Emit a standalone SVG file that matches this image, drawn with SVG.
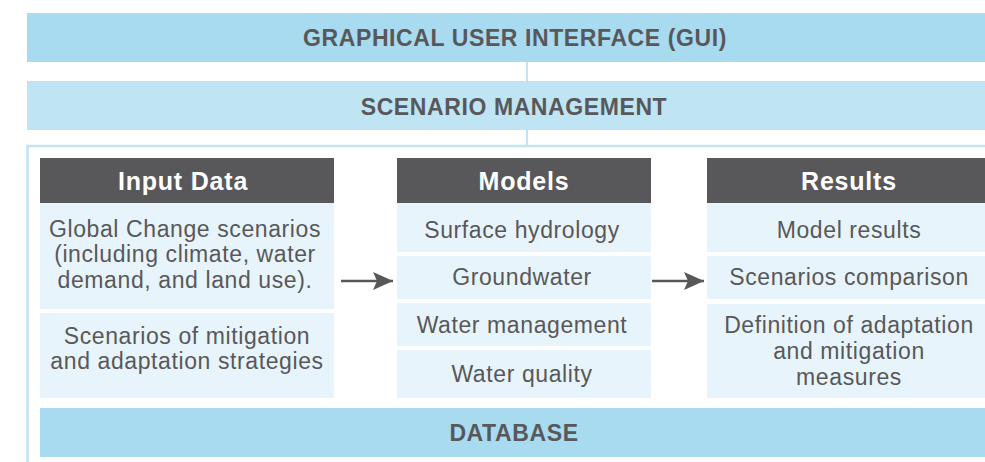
<svg xmlns="http://www.w3.org/2000/svg" width="985" height="462" viewBox="0 0 985 462">
  <defs>
    <style>
      .bar1 { fill: #a8daf0; }
      .bar2 { fill: #bfe4f3; }
      .head { fill: #58585a; }
      .cell { fill: #e8f4fb; }
      .link { stroke: #bfe4f3; stroke-width: 2; fill: none; }
      .frame { stroke: #bfe4f3; stroke-width: 2.5; fill: none; }
      .flow { stroke: #58585a; stroke-width: 2.5; fill: none; }
      .bt { font-family: "Liberation Sans", Arial, sans-serif; font-weight: bold; font-size: 23px; fill: #58585a; text-anchor: middle; letter-spacing: 0.6px; }
      .ht { font-family: "Liberation Sans", Arial, sans-serif; font-weight: bold; font-size: 25px; fill: #ffffff; text-anchor: middle; letter-spacing: 0.8px; }
      .ct { font-family: "Liberation Sans", Arial, sans-serif; font-size: 23px; fill: #58585a; text-anchor: middle; letter-spacing: 0.6px; }
    </style>
    <marker id="arrow" viewBox="0 0 20 18" refX="20" refY="9" markerWidth="20" markerHeight="18" markerUnits="userSpaceOnUse" orient="auto">
      <path d="M0,0 L20,9 L0,18 L4,9 z" fill="#58585a"/>
    </marker>
  </defs>

  <!-- connectors -->
  <g id="connectors">
    <line class="link" x1="527" y1="62" x2="527" y2="81"/>
    <line class="link" x1="527" y1="130" x2="527" y2="146"/>
    <polyline class="frame" points="988,146 27.5,146 27.5,465"/>
    <line class="flow" x1="341" y1="281" x2="393" y2="281" marker-end="url(#arrow)"/>
    <line class="flow" x1="652" y1="281" x2="704" y2="281" marker-end="url(#arrow)"/>
  </g>

  <g id="gui">
    <rect class="bar1" x="27" y="13" width="960" height="49"/>
    <text class="bt" x="515" y="46">GRAPHICAL USER INTERFACE (GUI)</text>
  </g>

  <g id="scenario-management">
    <rect class="bar2" x="27" y="81" width="960" height="49"/>
    <text class="bt" x="514" y="115">SCENARIO MANAGEMENT</text>
  </g>

  <g id="input-data">
    <rect class="head" x="40" y="158" width="294" height="45"/>
    <text class="ht" x="183" y="190">Input Data</text>
    <rect class="cell" x="40" y="203" width="294" height="106"/>
    <text class="ct" x="185" y="237">Global Change scenarios</text>
    <text class="ct" x="185" y="262">(including climate, water</text>
    <text class="ct" x="185" y="288">demand, and land use).</text>
    <rect class="cell" x="40" y="313" width="294" height="85"/>
    <text class="ct" x="187" y="344">Scenarios of mitigation</text>
    <text class="ct" x="187" y="369">and adaptation strategies</text>
  </g>

  <g id="models">
    <rect class="head" x="397" y="158" width="254" height="45"/>
    <text class="ht" x="524" y="190">Models</text>
    <rect class="cell" x="397" y="203" width="254" height="49"/>
    <text class="ct" x="522" y="238">Surface hydrology</text>
    <rect class="cell" x="397" y="256" width="254" height="43"/>
    <text class="ct" x="522" y="285">Groundwater</text>
    <rect class="cell" x="397" y="303" width="254" height="43"/>
    <text class="ct" x="522" y="333">Water management</text>
    <rect class="cell" x="397" y="350" width="254" height="48"/>
    <text class="ct" x="522" y="382">Water quality</text>
  </g>

  <g id="results">
    <rect class="head" x="707" y="158" width="280" height="45"/>
    <text class="ht" x="849" y="190">Results</text>
    <rect class="cell" x="707" y="203" width="280" height="49"/>
    <text class="ct" x="849" y="238">Model results</text>
    <rect class="cell" x="707" y="256" width="280" height="43"/>
    <text class="ct" x="849" y="285">Scenarios comparison</text>
    <rect class="cell" x="707" y="304" width="280" height="94"/>
    <text class="ct" x="849" y="333">Definition of adaptation</text>
    <text class="ct" x="849" y="359">and mitigation</text>
    <text class="ct" x="849" y="385">measures</text>
  </g>

  <g id="database">
    <rect class="bar1" x="40" y="408" width="947" height="49"/>
    <text class="bt" x="514" y="441">DATABASE</text>
  </g>
</svg>
